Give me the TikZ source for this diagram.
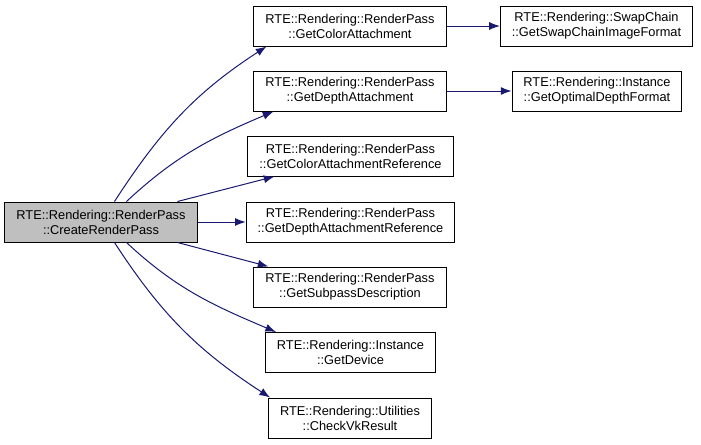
\documentclass[tikz,border=0pt]{standalone}
\usepackage{fontspec}
\setmainfont{Liberation Sans}
\usetikzlibrary{arrows.meta,calc}
\definecolor{edgeblue}{HTML}{191970}

\begin{document}
\begin{tikzpicture}[x=0.75pt,y=0.75pt,>={Latex[length=8pt,width=6pt]},
 every node/.style={font=\fontsize{9.6}{11.25}\selectfont},
 box/.style={draw,line width=0.75pt,align=center,minimum height=30pt,inner xsep=8.6pt,inner ysep=0pt},
 call/.style={->,draw=edgeblue,line width=0.75pt}]
\useasboundingbox (0,0) rectangle (701,-444);
\node[box,fill=black!25] (cr) at (101,-222) {RTE::Rendering::RenderPass\\::CreateRenderPass};
\node[box] (gca) at (350,-26) {RTE::Rendering::RenderPass\\::GetColorAttachment};
\node[box] (gda) at (350,-91) {RTE::Rendering::RenderPass\\::GetDepthAttachment};
\node[box] (gcar) at (350.5,-156) {RTE::Rendering::RenderPass\\::GetColorAttachmentReference};
\node[box] (gdar) at (350.5,-222) {RTE::Rendering::RenderPass\\::GetDepthAttachmentReference};
\node[box] (gsd) at (350,-287) {RTE::Rendering::RenderPass\\::GetSubpassDescription};
\node[box] (gdev) at (350.5,-352.5) {RTE::Rendering::Instance\\::GetDevice};
\node[box] (cvr) at (350,-418) {RTE::Rendering::Utilities\\::CheckVkResult};
\node[box] (gscif) at (596.5,-26) {RTE::Rendering::SwapChain\\::GetSwapChainImageFormat};
\node[box] (godf) at (597,-91) {RTE::Rendering::Instance\\::GetOptimalDepthFormat};
\draw[call] ($(cr.north west)+(110,0)$) to[out=57,in=213] ($(gca.south west)+(13,0)$);
\draw[call] ($(cr.north west)+(122,0)$) to[out=43,in=203] ($(gda.south west)+(20,0)$);
\draw[call] ($(cr.north west)+(173,0)$) -- ($(gcar.south west)+(27,0)$);
\draw[call] (cr) -- (gdar);
\draw[call] ($(cr.south west)+(173,0)$) -- ($(gsd.north west)+(15,0)$);
\draw[call] ($(cr.south west)+(122,0)$) to[out=-43,in=157] ($(gdev.north west)+(11,0)$);
\draw[call] ($(cr.south west)+(110,0)$) to[out=-57,in=147] ($(cvr.north west)+(2,0)$);
\draw[call] (gca) -- (gscif);
\draw[call] (gda) -- (godf);
\end{tikzpicture}
\end{document}
